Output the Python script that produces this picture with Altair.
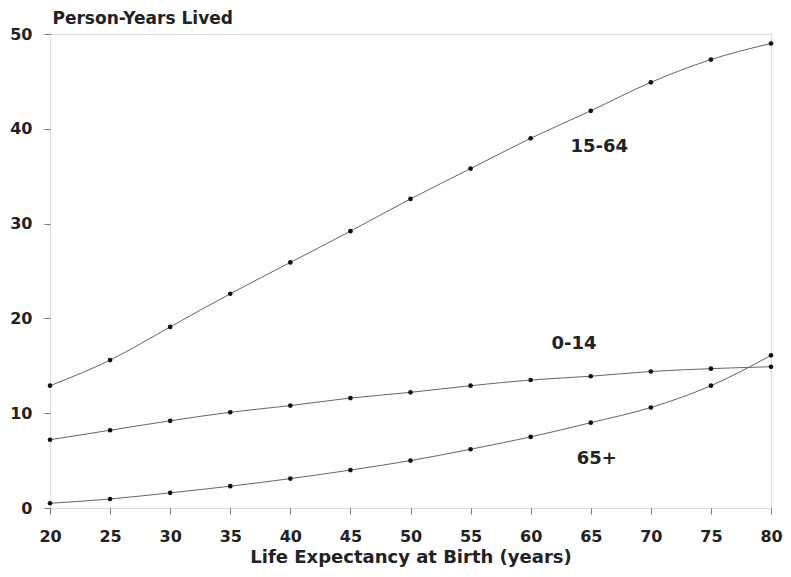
import altair as alt
import pandas as pd

life_exp = [20, 25, 30, 35, 40, 45, 50, 55, 60, 65, 70, 75, 80]
age_15_64 = [12.9, 15.6, 19.1, 22.6, 25.9, 29.2, 32.6, 35.8, 39.0, 41.9, 44.9, 47.3, 49.0]
age_0_14 = [7.2, 8.2, 9.2, 10.1, 10.8, 11.6, 12.2, 12.9, 13.5, 13.9, 14.4, 14.7, 14.9]
age_65 = [0.5, 0.95, 1.6, 2.3, 3.1, 4.0, 5.0, 6.2, 7.5, 9.0, 10.6, 12.9, 16.1]

series_names = ["15-64", "0-14", "65+"]
series_values = [age_15_64, age_0_14, age_65]

label_x = [65.7, 63.6, 65.5]
label_y = [38.1, 17.3, 5.2]

rows = []
for name, vals in zip(series_names, series_values):
    for x, v in zip(life_exp, vals):
        rows.append({"x": x, "y": v, "group": name})
df = pd.DataFrame(rows)
labels = pd.DataFrame({"x": label_x, "y": label_y, "text": series_names})

FONT = "DejaVu Sans"

xscale = alt.Scale(domain=[20, 80], nice=False)
yscale = alt.Scale(domain=[0, 50], nice=False)

xaxis = alt.Axis(
    values=list(range(20, 85, 5)), title="Life Expectancy at Birth (years)",
    grid=False, domain=False, tickSize=6, tickColor="#777", labelPadding=14,
    labelFont=FONT, labelFontSize=16, labelFontWeight="bold", labelColor="#222",
    titleFont=FONT, titleFontSize=18, titleFontWeight="bold", titleColor="#222",
    titlePadding=4, labelFlush=False,
)
yaxis = alt.Axis(
    values=[0, 10, 20, 30, 40, 50], title="Person-Years Lived",
    grid=False, domain=False, tickSize=6, tickColor="#777", labelPadding=12,
    labelFont=FONT, labelFontSize=16, labelFontWeight="bold", labelColor="#222",
    titleFont=FONT, titleFontSize=17, titleFontWeight="bold", titleColor="#222",
    titleAngle=0, titleAlign="left", titleBaseline="middle", titleX=2, titleY=-16,
    labelFlush=False,
)

base = alt.Chart(df)
lines = base.mark_line(color="#666", strokeWidth=1, interpolate="monotone").encode(
    x=alt.X("x:Q", scale=xscale, axis=xaxis),
    y=alt.Y("y:Q", scale=yscale, axis=yaxis),
    detail="group:N",
)
points = base.mark_circle(color="#111", size=22, opacity=1).encode(
    x=alt.X("x:Q", scale=xscale),
    y=alt.Y("y:Q", scale=yscale),
)
text = alt.Chart(labels).mark_text(
    font=FONT, fontSize=18, fontWeight="bold", color="#222", align="center", baseline="middle"
).encode(
    x=alt.X("x:Q", scale=xscale),
    y=alt.Y("y:Q", scale=yscale),
    text="text:N",
)

chart = (lines + points + text).properties(
    width=721, height=474,
    autosize=alt.AutoSizeParams(type="none"),
    padding={"left": 42, "top": 26, "right": 12, "bottom": 61},
).configure_view(
    stroke="#999", strokeWidth=1, strokeDash=[9, 3],
).configure(background="white")

chart.save("out.html", embed_options={"renderer": "svg", "actions": False})
